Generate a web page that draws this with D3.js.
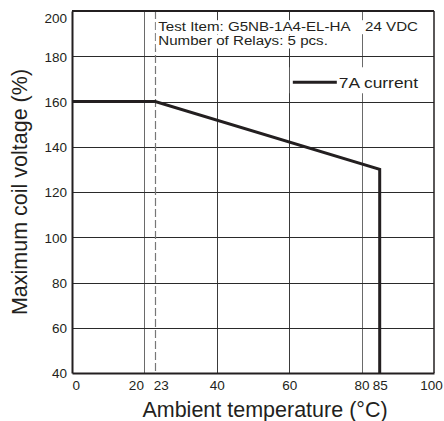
<!DOCTYPE html>
<html>
<head>
<meta charset="utf-8">
<script src="https://cdn.jsdelivr.net/npm/d3@7"></script>
<style>
    body { margin: 0; background: #fff; }
    text { font-family: "Liberation Sans", Arial, sans-serif; fill: #231f20; }
</style>
</head>
<body>
<div id="chart"></div>
<script>
// data
const ambientTemp = [0, 23, 85, 85];
const maxCoilVoltage = [160, 160, 130, 40];
const ratedTemp = 23;

const xTickValues = [0, 20, 23, 40, 60, 80, 85, 100];
const yTickValues = [40, 60, 80, 100, 120, 140, 160, 180, 200];
const xGridValues = [20, 40, 60, 80];
const yGridValues = [60, 80, 100, 120, 140, 160, 180];

const noteLines = ["Test Item: G5NB-1A4-EL-HA", "Number of Relays: 5 pcs."];
const noteRight = "24 VDC";
const seriesName = "7A current";
const xTitle = "Ambient temperature (\u00b0C)";
const yTitle = "Maximum coil voltage (%)";

class DeratingChart {
    constructor(parentContainer) {
        this.parentContainer = parentContainer;
        this.data = ambientTemp.map((t, i) => ({temp: t, volt: maxCoilVoltage[i]}));
        this.initVis();
    }

    initVis() {
        let vis = this;

        vis.margin = {top: 11, right: 10, bottom: 48, left: 72};
        vis.width = 444 - vis.margin.left - vis.margin.right;
        vis.height = 421 - vis.margin.top - vis.margin.bottom;

        vis.svg = d3.select(`#${vis.parentContainer}`)
            .append("svg")
            .attr("width", 444)
            .attr("height", 421)
            .append("g")
            .attr("transform", `translate(${vis.margin.left}, ${vis.margin.top})`);

        vis.x = d3.scaleLinear().domain([0, 100]).range([0, vis.width]);
        vis.y = d3.scaleLinear().domain([40, 200]).range([vis.height, 0]);

        vis.updateVis();
    }

    updateVis() {
        let vis = this;
        const crisp = v => Math.round(v) + 0.5;

        // Grid
        vis.svg.append("g").selectAll("line")
            .data(xGridValues).join("line")
            .attr("x1", d => crisp(vis.x(d))).attr("x2", d => crisp(vis.x(d)))
            .attr("y1", 0).attr("y2", vis.height)
            .attr("stroke", d => d === 20 || d === 80 ? "#6a6a6a" : "#3a3a3a")
            .attr("stroke-width", 1);

        vis.svg.append("g").selectAll("line")
            .data(yGridValues).join("line")
            .attr("x1", 0).attr("x2", vis.width)
            .attr("y1", d => crisp(vis.y(d))).attr("y2", d => crisp(vis.y(d)))
            .attr("stroke", "#2a2a2a").attr("stroke-width", 1);

        // Dashed rated temperature line
        vis.svg.append("line")
            .attr("x1", crisp(vis.x(ratedTemp))).attr("x2", crisp(vis.x(ratedTemp)))
            .attr("y1", 0).attr("y2", vis.height)
            .attr("stroke", "#777").attr("stroke-width", 1.2)
            .attr("stroke-dasharray", "8,3");

        // Note box text with white backing (the type in the reference is wide)
        const stretch = 1.21;
        const noteX = vis.x(ratedTemp) + 3;
        noteLines.forEach((line, i) => {
            const g = vis.svg.append("g")
                .attr("transform", `translate(${noteX}, ${19.7 + i * 14.3}) scale(${stretch}, 1)`);
            const t = g.append("text")
                .style("font-size", "12.5px")
                .text(line);
            const bb = t.node().getBBox();
            const w = i === 0 ? (vis.width - 10 - noteX) / stretch : bb.width + 2;
            g.insert("rect", "text")
                .attr("x", -2).attr("y", -10.5)
                .attr("width", w).attr("height", 14)
                .attr("fill", "#fff");
        });
        vis.svg.append("g")
            .attr("transform", `translate(${vis.width - 16}, 19.7) scale(${stretch}, 1)`)
            .append("text")
            .attr("text-anchor", "end")
            .style("font-size", "12.5px")
            .text(noteRight);

        // Legend
        const legend = vis.svg.append("g")
            .attr("transform", `translate(${vis.x(61)}, ${vis.y(168.5)})`);
        legend.append("rect")
            .attr("x", -3).attr("y", -15)
            .attr("width", 132).attr("height", 26)
            .attr("fill", "#fff");
        legend.append("line")
            .attr("x1", 0).attr("x2", 44)
            .attr("stroke", "#231f20").attr("stroke-width", 3);
        legend.append("text")
            .attr("transform", "translate(46, 5.5) scale(1.16, 1)")
            .style("font-size", "15px")
            .text(seriesName);

        // Data line
        const line = d3.line()
            .x(d => vis.x(d.temp))
            .y(d => vis.y(d.volt));

        vis.svg.append("path")
            .datum(vis.data)
            .attr("fill", "none")
            .attr("stroke", "#231f20")
            .attr("stroke-width", 3)
            .attr("stroke-linejoin", "miter")
            .attr("d", line);

        // Top and right frame
        vis.svg.append("line")
            .attr("x1", 0).attr("x2", vis.width).attr("y1", 0).attr("y2", 0)
            .attr("stroke", "#231f20").attr("stroke-width", 2);
        vis.svg.append("line")
            .attr("x1", vis.width).attr("x2", vis.width).attr("y1", 0).attr("y2", vis.height)
            .attr("stroke", "#231f20").attr("stroke-width", 1.5);

        // Y axis
        const yAxis = vis.svg.append("g")
            .call(d3.axisLeft(vis.y).tickValues(yTickValues).tickSize(0).tickPadding(5));
        yAxis.select(".domain").attr("stroke", "#231f20").attr("stroke-width", 2);
        yAxis.selectAll("text")
            .style("font-size", "13.5px")
            .attr("fill", "#231f20")
            .attr("dy", d => d === 200 ? "0.85em" : "0.36em");

        // X axis
        const xAxis = vis.svg.append("g")
            .attr("transform", `translate(0, ${vis.height})`)
            .call(d3.axisBottom(vis.x).tickValues(xTickValues).tickSize(0).tickPadding(7));
        xAxis.select(".domain").attr("stroke", "#231f20").attr("stroke-width", 2);
        xAxis.selectAll("text")
            .style("font-size", "13.5px")
            .attr("fill", "#231f20")
            .attr("text-anchor", d => d === 0 || d === 23 ? "start" : (d === 20 ? "end" : "middle"))
            .attr("dx", d => d === 23 ? -2 : (d === 100 ? -3 : (d === 20 ? -1 : 0)));

        // Titles
        vis.svg.append("text")
            .attr("x", 265 - vis.margin.left)
            .attr("y", vis.height + 44)
            .attr("text-anchor", "middle")
            .style("font-size", "21.5px")
            .text(xTitle);

        vis.svg.append("text")
            .attr("transform", `translate(${27 - vis.margin.left}, ${vis.height / 2}) rotate(-90)`)
            .attr("text-anchor", "middle")
            .style("font-size", "21.5px")
            .text(yTitle);
    }
}

new DeratingChart("chart");
</script>
</body>
</html>
